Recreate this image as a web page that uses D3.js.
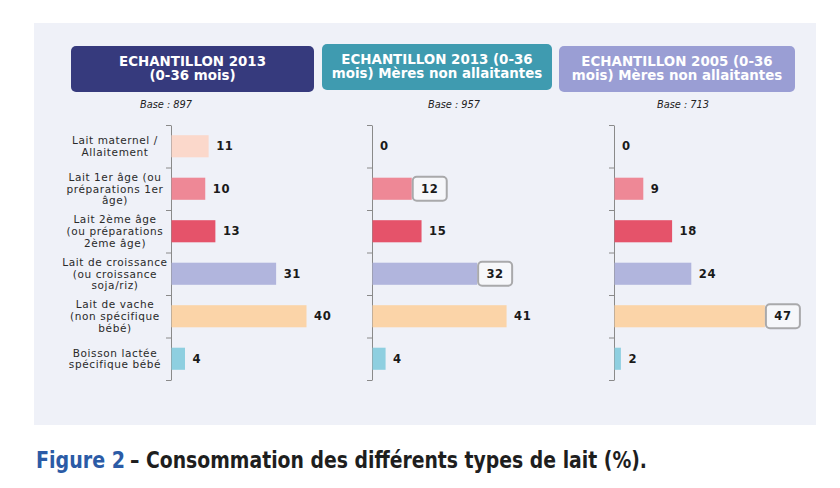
<!DOCTYPE html>
<html>
<head>
<meta charset="utf-8">
<script src="https://cdn.jsdelivr.net/npm/d3@7"></script>
<style>
  body { margin: 0; background: #fff; }
  svg { display: block; }
</style>
</head>
<body>
<div id="wrapper"></div>
<script>
// data (%)
const categories = [
    "Lait maternel / Allaitement",
    "Lait 1er âge (ou préparations 1er âge)",
    "Lait 2ème âge (ou préparations 2ème âge)",
    "Lait de croissance (ou croissance soja/riz)",
    "Lait de vache (non spécifique bébé)",
    "Boisson lactée spécifique bébé"
]
const categoryLines = [
    ["Lait maternel /", "Allaitement"],
    ["Lait 1er âge (ou", "préparations 1er", "âge)"],
    ["Lait 2ème âge", "(ou préparations", "2ème âge)"],
    ["Lait de croissance", "(ou croissance", "soja/riz)"],
    ["Lait de vache", "(non spécifique", "bébé)"],
    ["Boisson lactée", "spécifique bébé"]
]
const echantillon2013 = [11, 10, 13, 31, 40, 4]
const echantillon2013NonAllait = [0, 12, 15, 32, 41, 4]
const echantillon2005NonAllait = [0, 9, 18, 24, 47, 2]
const panelTitles = [
    ["ECHANTILLON 2013", "(0-36 mois)"],
    ["ECHANTILLON 2013 (0-36", "mois) Mères non allaitantes"],
    ["ECHANTILLON 2005 (0-36", "mois) Mères non allaitantes"]
]
const bases = [897, 957, 713]
const highlighted = [[], [1, 3], [4]]

const barColors = ["#fbd8cb", "#ee8896", "#e5536a", "#b1b5dd", "#fbd4a8", "#8ecfe0"]

const dimensions = { width: 840, height: 488 }

// layout of each small panel
const panels = [
    { values: echantillon2013, axisX: 171, ppu: 3.375,
      box: { x: 71, y: 46, w: 243, h: 46, fill: "#363a7d" }, baseX: 166 },
    { values: echantillon2013NonAllait, axisX: 372, ppu: 3.27,
      box: { x: 322, y: 44, w: 230, h: 46, fill: "#3f9bb0" }, baseX: 454 },
    { values: echantillon2005NonAllait, axisX: 614, ppu: 3.2,
      box: { x: 559, y: 46, w: 236, h: 46, fill: "#9a9ed4" }, baseX: 683 }
]

const svg = d3.select('#wrapper')
    .append('svg')
    .attr('width', dimensions.width)
    .attr('height', dimensions.height)

svg.append('rect')
    .attr('x', 34).attr('y', 23)
    .attr('width', 782).attr('height', 402)
    .attr('fill', '#eff1f8')

const yScale = d3.scaleBand()
    .domain(categories)
    .range([125, 380])
    .paddingInner(0.48)
    .paddingOuter(0.24)

const yBound = d3.scaleLinear()
    .domain([0, categories.length])
    .range([125, 380])

const mainFont = '"DejaVu Sans", Verdana, sans-serif'

panels.forEach((p, pi) => {
    const g = svg.append('g')

    // header box
    g.append('rect')
        .attr('x', p.box.x).attr('y', p.box.y)
        .attr('width', p.box.w).attr('height', p.box.h)
        .attr('rx', 5)
        .attr('fill', p.box.fill)

    g.append('text')
        .attr('text-anchor', 'middle')
        .attr('font-family', mainFont)
        .attr('font-weight', 'bold')
        .attr('font-size', 13.4)
        .attr('fill', '#fff')
        .selectAll('tspan')
        .data(panelTitles[pi])
        .join('tspan')
        .attr('x', p.box.x + p.box.w / 2)
        .attr('y', (d, i) => p.box.y + 20 + i * 14)
        .text(d => d)

    g.append('text')
        .attr('x', p.baseX)
        .attr('y', 108)
        .attr('text-anchor', 'middle')
        .attr('font-family', mainFont)
        .attr('font-style', 'italic')
        .attr('font-size', 9.8)
        .attr('fill', '#222')
        .text(`Base : ${bases[pi]}`)

    const xScale = d3.scaleLinear()
        .domain([0, 50])
        .range([p.axisX, p.axisX + 50 * p.ppu])

    // axis with ticks between categories
    g.append('g')
        .attr('transform', `translate(${p.axisX},0)`)
        .call(d3.axisLeft(yBound)
            .tickValues(d3.range(categories.length + 1))
            .tickFormat('')
            .tickSize(5)
            .tickSizeOuter(0))
        .call(a => a.selectAll('path, line').attr('stroke', '#8a8a8a'))

    const data = p.values.map((v, i) => ({ cat: categories[i], value: v, idx: i }))

    g.selectAll('rect.bar')
        .data(data)
        .join('rect')
        .attr('class', 'bar')
        .attr('x', xScale(0) + 0.5)
        .attr('y', d => yScale(d.cat))
        .attr('width', d => xScale(d.value) - xScale(0))
        .attr('height', yScale.bandwidth())
        .attr('fill', d => barColors[d.idx])

    // framed labels
    const framed = data.filter(d => highlighted[pi].includes(d.idx))
    g.selectAll('rect.frame')
        .data(framed)
        .join('rect')
        .attr('class', 'frame')
        .attr('x', d => xScale(d.value) + 1.5)
        .attr('y', d => yScale(d.cat) + yScale.bandwidth() / 2 - 12)
        .attr('width', 34)
        .attr('height', 24)
        .attr('rx', 4)
        .attr('fill', '#f6f7fa')
        .attr('stroke', '#a9a9ab')
        .attr('stroke-width', 2)

    g.selectAll('text.val')
        .data(data)
        .join('text')
        .attr('class', 'val')
        .attr('x', d => highlighted[pi].includes(d.idx)
            ? xScale(d.value) + 18.5
            : xScale(d.value) + 8)
        .attr('y', d => yScale(d.cat) + yScale.bandwidth() / 2)
        .attr('dy', '0.36em')
        .attr('text-anchor', d => highlighted[pi].includes(d.idx) ? 'middle' : 'start')
        .attr('font-family', mainFont)
        .attr('font-weight', 'bold')
        .attr('font-size', 11.6)
        .attr('letter-spacing', 0.6)
        .attr('fill', '#1a1a1a')
        .text(d => d.value)
})

// category labels on the left
const labels = svg.append('g')
    .selectAll('text')
    .data(categories)
    .join('text')
    .attr('text-anchor', 'middle')
    .attr('font-family', mainFont)
    .attr('font-size', 10.5)
    .attr('letter-spacing', 0.6)
    .attr('fill', '#2a2a2a')

labels.each(function(c, i) {
    const lines = categoryLines[i]
    const cy = yScale(c) + yScale.bandwidth() / 2
    d3.select(this).selectAll('tspan')
        .data(lines)
        .join('tspan')
        .attr('x', 115)
        .attr('y', (d, j) => cy + (j - (lines.length - 1) / 2) * 11.6)
        .attr('dy', '0.36em')
        .text(d => d)
})

// caption
const capFont = '"Liberation Sans Narrow", "DejaVu Sans Condensed", "Roboto Condensed", sans-serif'
svg.append('text')
    .attr('x', 36).attr('y', 468)
    .attr('font-family', capFont)
    .attr('font-weight', 'bold')
    .attr('font-size', 23)
    .attr('fill', '#2b5ba6')
    .attr('textLength', 89)
    .attr('lengthAdjust', 'spacingAndGlyphs')
    .text('Figure 2')

svg.append('text')
    .attr('x', 130).attr('y', 468)
    .attr('font-family', capFont)
    .attr('font-weight', 'bold')
    .attr('font-size', 23)
    .attr('fill', '#1e1e1e')
    .attr('textLength', 517)
    .attr('lengthAdjust', 'spacingAndGlyphs')
    .text('– Consommation des différents types de lait (%).')
</script>
</body>
</html>
